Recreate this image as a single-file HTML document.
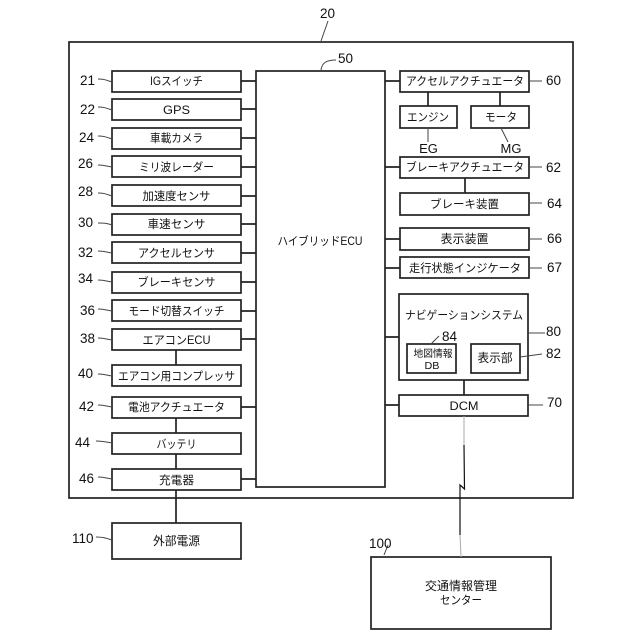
<!DOCTYPE html>
<html><head><meta charset="utf-8">
<style>
html,body{margin:0;padding:0;background:#fff;width:640px;height:640px;overflow:hidden}
svg{display:block}
text{font-family:"Liberation Sans","Noto Sans CJK JP",sans-serif;fill:#111}
.l{font-size:11.6px;text-anchor:middle}
.n{font-size:13.5px}
rect{fill:#fff;stroke:#222;stroke-width:1.7}
.c{fill:none;stroke:#222;stroke-width:1.7}
.t{fill:none;stroke:#444;stroke-width:1}
</style></head><body>
<svg width="640" height="640" viewBox="0 0 640 640" xmlns="http://www.w3.org/2000/svg">
<rect x="69" y="42" width="504" height="456"/>
<rect x="256" y="71" width="129" height="416"/>
<!-- connectors left -->
<path class="c" d="M241 81H256M241 109H256M241 138H256M241 167H256M241 196H256M241 224H256M241 253H256M241 282H256M241 311H256M241 339H256M241 407H256M241 479H256"/>
<path class="c" d="M176 350V365M176 418V433M176 454V469M176 490V523"/>
<!-- connectors right -->
<path class="c" d="M385 81H400M385 167H400M385 239H400M385 268H400M385 337H399M385 405H399"/>
<path class="c" d="M428 92V106M500 92V106M465 178V193M464 380V395"/>
<!-- left boxes -->
<rect x="112" y="71" width="129" height="21"/>
<rect x="112" y="99" width="129" height="21"/>
<rect x="112" y="128" width="129" height="21"/>
<rect x="112" y="156" width="129" height="21"/>
<rect x="112" y="185" width="129" height="21"/>
<rect x="112" y="214" width="129" height="21"/>
<rect x="112" y="242" width="129" height="21"/>
<rect x="112" y="272" width="129" height="21"/>
<rect x="112" y="300" width="129" height="21"/>
<rect x="112" y="329" width="129" height="21"/>
<rect x="112" y="365" width="129" height="21"/>
<rect x="112" y="397" width="129" height="21"/>
<rect x="112" y="433" width="129" height="21"/>
<rect x="112" y="469" width="129" height="21"/>
<rect x="112" y="523" width="129" height="36"/>
<!-- right boxes -->
<rect x="400" y="71" width="129" height="21"/>
<rect x="400" y="106" width="57" height="22"/>
<rect x="471" y="106" width="58" height="22"/>
<rect x="400" y="157" width="129" height="21"/>
<rect x="400" y="193" width="129" height="22"/>
<rect x="400" y="228" width="129" height="22"/>
<rect x="400" y="257" width="129" height="21"/>
<rect x="399" y="294" width="129" height="86"/>
<rect x="407" y="344" width="49" height="29"/>
<rect x="471" y="344" width="49" height="29"/>
<rect x="399" y="395" width="129" height="21"/>
<rect x="371" y="557" width="180" height="72"/>
<!-- wireless link -->
<path d="M464 416V445" stroke="#aaa" stroke-width="1" fill="none"/>
<path d="M464 445L464.5 489L460 485L460 535" stroke="#111" stroke-width="1.2" fill="none"/>
<path d="M460 535L461 557" stroke="#aaa" stroke-width="1" fill="none"/>
<!-- leader lines -->
<path class="t" d="M98 79C104 79 106 80 112 82M98 107C104 107 106 108 112 110M98 136C104 136 106 137 112 139M98 165C104 165 106 166 112 167M98 193C104 193 106 194 112 196M98 223C104 223 106 223 112 225M98 251C104 251 106 252 112 253M98 280C104 280 106 281 112 282M98 309C104 309 106 310 112 311M98 338C104 338 106 339 112 340M98 374C104 374 106 375 112 376M98 405C104 405 106 406 112 407M96 441C103 441 106 442 112 443M98 477C104 477 106 478 112 479M96 537C103 537 106 538 112 540"/>
<path class="t" d="M328 21L321 41M321 70C322 63 326 60 336 60"/>
<path class="t" d="M529 81H542M529 167H542M529 203H542M529 239H542M529 268H542M528 333H545M520 357L542 354M528 405H543M428 128V142M501 128L508 142M431 344L439 336M384 555L388 545"/>
<!-- labels -->
<text class="l" x="176.5" y="85" textLength="53" lengthAdjust="spacingAndGlyphs">IGスイッチ</text>
<text class="l" x="176.5" y="114" textLength="27" lengthAdjust="spacingAndGlyphs" style="font-size:12px">GPS</text>
<text class="l" x="176.5" y="142" textLength="53" lengthAdjust="spacingAndGlyphs">車載カメラ</text>
<text class="l" x="176.5" y="171" textLength="75" lengthAdjust="spacingAndGlyphs">ミリ波レーダー</text>
<text class="l" x="176.5" y="200" textLength="68" lengthAdjust="spacingAndGlyphs">加速度センサ</text>
<text class="l" x="176.5" y="228" textLength="58" lengthAdjust="spacingAndGlyphs">車速センサ</text>
<text class="l" x="176.5" y="257" textLength="77" lengthAdjust="spacingAndGlyphs">アクセルセンサ</text>
<text class="l" x="176.5" y="286" textLength="78" lengthAdjust="spacingAndGlyphs">ブレーキセンサ</text>
<text class="l" x="176.5" y="315" textLength="96" lengthAdjust="spacingAndGlyphs">モード切替スイッチ</text>
<text class="l" x="176.5" y="344" textLength="68" lengthAdjust="spacingAndGlyphs">エアコンECU</text>
<text class="l" x="176.5" y="380" textLength="117" lengthAdjust="spacingAndGlyphs">エアコン用コンプレッサ</text>
<text class="l" x="176.5" y="411" textLength="97" lengthAdjust="spacingAndGlyphs">電池アクチュエータ</text>
<text class="l" x="176.5" y="448" textLength="40" lengthAdjust="spacingAndGlyphs">バッテリ</text>
<text class="l" x="176.5" y="484" textLength="35" lengthAdjust="spacingAndGlyphs">充電器</text>
<text class="l" x="176.5" y="545" textLength="47" lengthAdjust="spacingAndGlyphs" style="font-size:12px">外部電源</text>
<text class="l" x="320" y="245" textLength="85" lengthAdjust="spacingAndGlyphs">ハイブリッドECU</text>
<text class="l" x="465" y="85" textLength="118" lengthAdjust="spacingAndGlyphs">アクセルアクチュエータ</text>
<text class="l" x="428" y="121" textLength="42" lengthAdjust="spacingAndGlyphs">エンジン</text>
<text class="l" x="501" y="121" textLength="32" lengthAdjust="spacingAndGlyphs">モータ</text>
<text class="l" x="428.5" y="153" style="font-size:13px">EG</text>
<text class="l" x="511" y="153" style="font-size:13px">MG</text>
<text class="l" x="465" y="171" textLength="118" lengthAdjust="spacingAndGlyphs">ブレーキアクチュエータ</text>
<text class="l" x="464.5" y="208" textLength="69" lengthAdjust="spacingAndGlyphs">ブレーキ装置</text>
<text class="l" x="464.5" y="243" textLength="48" lengthAdjust="spacingAndGlyphs" style="font-size:12px">表示装置</text>
<text class="l" x="465" y="272" textLength="112" lengthAdjust="spacingAndGlyphs">走行状態インジケータ</text>
<text class="l" x="464" y="319" textLength="118" lengthAdjust="spacingAndGlyphs">ナビゲーションシステム</text>
<text class="l" x="433" y="357" textLength="39" lengthAdjust="spacingAndGlyphs" style="font-size:10px">地図情報</text>
<text class="l" x="432" y="369" textLength="15" lengthAdjust="spacingAndGlyphs" style="font-size:10px">DB</text>
<text class="l" x="495" y="362" textLength="35" lengthAdjust="spacingAndGlyphs" style="font-size:12px">表示部</text>
<text class="l" x="464" y="410" textLength="29" lengthAdjust="spacingAndGlyphs" style="font-size:12px">DCM</text>
<text class="l" x="461" y="590" textLength="72" lengthAdjust="spacingAndGlyphs" style="font-size:12px">交通情報管理</text>
<text class="l" x="461" y="604" textLength="42" lengthAdjust="spacingAndGlyphs">センター</text>
<!-- reference numbers -->
<text class="n" x="320" y="18">20</text>
<text class="n" x="338" y="63">50</text>
<text class="n" x="80" y="85">21</text>
<text class="n" x="80" y="114">22</text>
<text class="n" x="79" y="142">24</text>
<text class="n" x="78" y="168">26</text>
<text class="n" x="78" y="196">28</text>
<text class="n" x="78" y="227">30</text>
<text class="n" x="78" y="257">32</text>
<text class="n" x="78" y="283">34</text>
<text class="n" x="80" y="315">36</text>
<text class="n" x="80" y="343">38</text>
<text class="n" x="78" y="378">40</text>
<text class="n" x="79" y="411">42</text>
<text class="n" x="75" y="447">44</text>
<text class="n" x="79" y="483">46</text>
<text class="n" x="72" y="543">110</text>
<text class="n" x="546" y="85">60</text>
<text class="n" x="546" y="172">62</text>
<text class="n" x="547" y="208">64</text>
<text class="n" x="547" y="243">66</text>
<text class="n" x="547" y="272">67</text>
<text class="n" x="546" y="336">80</text>
<text class="n" x="546" y="358">82</text>
<text class="n" x="442" y="341">84</text>
<text class="n" x="547" y="407">70</text>
<text class="n" x="369" y="548">100</text>
</svg>
</body></html>
